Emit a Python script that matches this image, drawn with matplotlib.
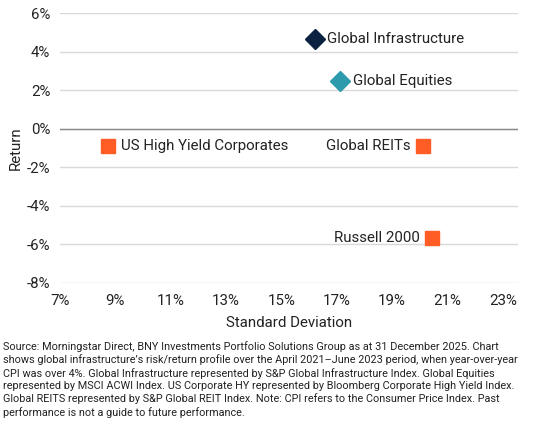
import matplotlib.pyplot as plt
from matplotlib.ticker import FuncFormatter

names = ["Global Infrastructure", "Global Equities", "US High Yield Corporates",
         "Global REITs", "Russell 2000"]
std_dev = [16.2, 17.13, 8.74, 20.12, 20.44]
returns = [4.63, 2.47, -0.89, -0.89, -5.7]
markers = ["D", "D", "s", "s", "s"]
colors = ["#0b2340", "#2d9bab", "#ff5c26", "#ff5c26", "#ff5c26"]
label_side = ["right", "right", "right", "left", "left"]

x_ticks = [7, 9, 11, 13, 15, 17, 19, 21, 23]
y_ticks = [-8, -6, -4, -2, 0, 2, 4, 6]

note = ("Source: Morningstar Direct, BNY Investments Portfolio Solutions Group as at 31 December 2025. Chart\n"
        "shows global infrastructure\u2019s risk/return profile over the April 2021\u2013June 2023 period, when year-over-year\n"
        "CPI was over 4%. Global Infrastructure represented by S&P Global Infrastructure Index. Global Equities\n"
        "represented by MSCI ACWI Index. US Corporate HY represented by Bloomberg Corporate High Yield Index.\n"
        "Global REITS represented by S&P Global REIT Index. Note: CPI refers to the Consumer Price Index. Past\n"
        "performance is not a guide to future performance.")

plt.rcParams["font.family"] = ["Roboto", "DejaVu Sans"]
txt = "#222222"

fig = plt.figure(figsize=(5.47, 4.21), dpi=100)
ax = fig.add_axes([0.1097, 0.3285, 0.8373, 0.6405])

for x, y, m, c, n, side in zip(std_dev, returns, markers, colors, names, label_side):
    ms = 10.2 if m == "D" else 9.8
    ax.plot(x, y, marker=m, color=c, markersize=ms, linestyle="none", zorder=3)
    if side == "right":
        ax.text(x + 0.45, y, n, ha="left", va="center", fontsize=10.8, color=txt)
    else:
        ax.text(x - 0.45, y, n, ha="right", va="center", fontsize=10.8, color=txt)

ax.set_xlim(7, 23.55)
ax.set_ylim(-8, 6)
ax.set_xticks(x_ticks)
ax.set_yticks(y_ticks)
ax.xaxis.set_major_formatter(FuncFormatter(lambda v, p: f"{v:.0f}%"))
ax.yaxis.set_major_formatter(FuncFormatter(lambda v, p: f"{v:.0f}%"))
ax.grid(axis="y", color="#d9d9d9", linewidth=1)
ax.axhline(0, color="#888888", linewidth=1, zorder=2)
for s in ax.spines.values():
    s.set_visible(False)
ax.tick_params(length=0, labelsize=10.8, labelcolor=txt)
ax.tick_params(axis="x", pad=8)
ax.tick_params(axis="y", pad=7)
ax.set_xlabel("Standard Deviation", fontsize=10.8, color=txt, labelpad=6)
ax.set_ylabel("Return", fontsize=10.8, color=txt, labelpad=3)

fig.text(0.005, 0.19, note, ha="left", va="top", fontsize=7.8, color=txt, linespacing=1.28)

fig.savefig("out.png", dpi=100)
